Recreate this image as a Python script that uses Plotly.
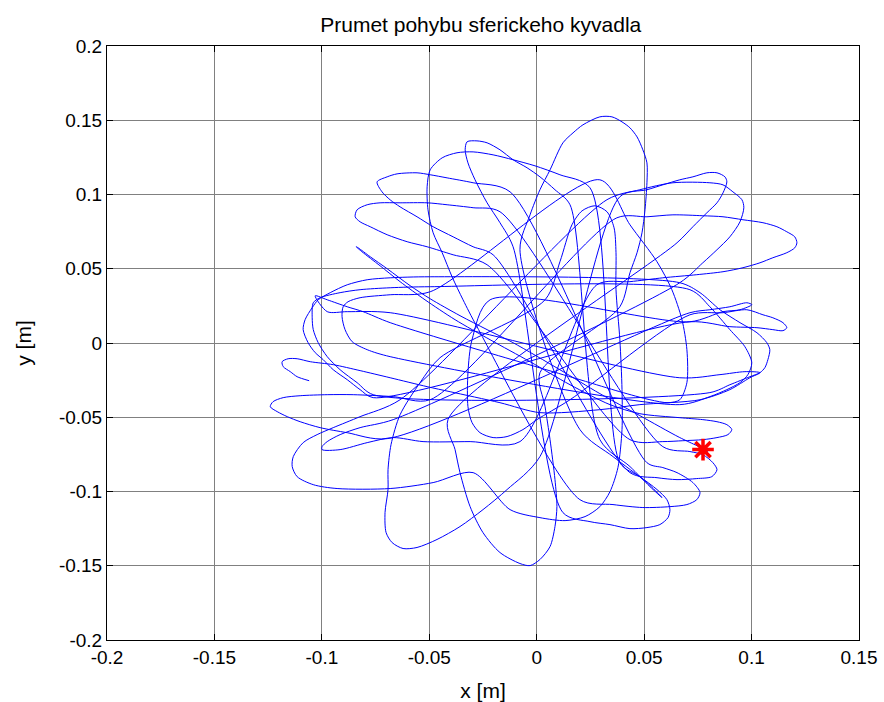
import plotly.graph_objects as go

# Trajectory of the pendulum bob projected onto the x-y plane [m].
# The path is stored swing by swing (one turning point per array pair)
# and joined in the order given by SWING_ORDER.

start_x = [0.0797, 0.0769, 0.0787]
start_y = [-0.0731, -0.0705, -0.0718]

C_x = [0.0666, 0.0480, 0.0294, 0.0108, -0.0110, -0.0231, -0.0357, -0.0496, -0.0589, -0.0696, -0.0775, -0.0831, -0.0840,
       -0.0813, -0.0729, -0.0636, -0.0520, -0.0380, -0.0217, -0.0031, 0.0155, 0.0341]
C_y = [-0.0637, -0.0489, -0.0341, -0.0180, 0.0002, 0.0090, 0.0184, 0.0298, 0.0386, 0.0500, 0.0581, 0.0641, 0.0648,
       0.0614, 0.0520, 0.0413, 0.0291, 0.0157, 0.0022, -0.0126, -0.0281, -0.0415]

S_x = [0.0480, 0.0666, 0.0773, 0.0839, 0.0885, 0.0908, 0.0890, 0.0839, 0.0773, 0.0680, 0.0587, 0.0434]
S_y = [-0.0476, -0.0503, -0.0516, -0.0530, -0.0550, -0.0583, -0.0617, -0.0637, -0.0651, -0.0658, -0.0664, -0.0651]

B_x = [-0.0231, -0.0389, -0.0510, -0.0603, -0.0696, -0.0775, -0.0822, -0.0845, -0.0836, -0.0789, -0.0729, -0.0636,
       -0.0510, -0.0417, -0.0296, -0.0171]
B_y = [0.0527, 0.0594, 0.0648, 0.0682, 0.0729, 0.0783, 0.0816, 0.0850, 0.0897, 0.0931, 0.0944, 0.0944,
       0.0944, 0.0931, 0.0911, 0.0884]

U_x = [0.0587, 0.0713, 0.0773, 0.0820, 0.0839, 0.0815, 0.0745, 0.0653, 0.0560, 0.0434]
U_y = [-0.0698, -0.0731, -0.0752, -0.0806, -0.0853, -0.0900, -0.0913, -0.0920, -0.0907, -0.0873]

A_x = [-0.0203, -0.0296, -0.0389, -0.0482, -0.0557, -0.0636, -0.0682, -0.0720, -0.0743, -0.0696, -0.0650, -0.0557,
       -0.0496, -0.0417, -0.0296, -0.0124]
A_y = [0.0594, 0.0648, 0.0715, 0.0783, 0.0850, 0.0917, 0.0964, 0.1018, 0.1085, 0.1119, 0.1139, 0.1146,
       0.1133, 0.1112, 0.1079, 0.1018]

V_x = [0.0513, 0.0587, 0.0653, 0.0727, 0.0760, 0.0745, 0.0699, 0.0620, 0.0494, 0.0355, 0.0201]
V_y = [-0.0806, -0.0839, -0.0873, -0.0940, -0.1007, -0.1055, -0.1088, -0.1102, -0.1108, -0.1088, -0.1055]

P113_x = [-0.0278, -0.0343, -0.0394, -0.0440, -0.0482, -0.0506, -0.0510, -0.0496, -0.0440, -0.0371, -0.0296, -0.0203,
          -0.0110, -0.0008, 0.0108, 0.0248]
P113_y = [0.0110, 0.0291, 0.0446, 0.0608, 0.0742, 0.0897, 0.1052, 0.1166, 0.1247, 0.1281, 0.1287, 0.1267,
          0.1234, 0.1193, 0.1133, 0.1045]

W_x = [0.0387, 0.0480, 0.0560, 0.0606, 0.0620, 0.0611, 0.0573, 0.0513, 0.0434, 0.0341, 0.0248, 0.0122]
W_y = [-0.0806, -0.0900, -0.0987, -0.1055, -0.1122, -0.1176, -0.1223, -0.1243, -0.1250, -0.1223, -0.1203, -0.1142]

P103_x = [-0.0110, -0.0171, -0.0231, -0.0287, -0.0320, -0.0333, -0.0324, -0.0278, -0.0231, -0.0171, -0.0110, -0.0045,
          0.0015, 0.0085, 0.0155]
P103_y = [0.0648, 0.0810, 0.0944, 0.1099, 0.1213, 0.1301, 0.1355, 0.1361, 0.1348, 0.1301, 0.1234, 0.1180,
          0.1119, 0.1032, 0.0931]

X_x = [0.0294, 0.0434, 0.0527, 0.0583, 0.0513, 0.0355, 0.0201]
X_y = [-0.0651, -0.0832, -0.0967, -0.1041, -0.0940, -0.0765, -0.0583]

K_x = [-0.0078, -0.0031, 0.0015, 0.0062, 0.0122, 0.0169, 0.0215, 0.0294, 0.0350, 0.0397, 0.0434, 0.0467, 0.0494,
       0.0513, 0.0513, 0.0504, 0.0490, 0.0467, 0.0434, 0.0387]
K_y = [0.0628, 0.0863, 0.1032, 0.1166, 0.1348, 0.1415, 0.1469, 0.1523, 0.1523, 0.1489, 0.1449, 0.1388, 0.1301,
       0.1213, 0.1079, 0.0897, 0.0742, 0.0608, 0.0473, 0.0244]

J_x = [0.0015, 0.0039, 0.0062, 0.0085, 0.0094, 0.0085, 0.0062, 0.0015, -0.0031, -0.0078, -0.0171, -0.0250, -0.0310,
       -0.0357, -0.0380, -0.0413]
J_y = [-0.0200, -0.0429, -0.0651, -0.0920, -0.1102, -0.1236, -0.1371, -0.1458, -0.1499, -0.1485, -0.1411, -0.1277,
       -0.1102, -0.0873, -0.0718, -0.0516]

L_x = [0.0653, 0.0727, 0.0792, 0.0839, 0.0867, 0.0885, 0.0876, 0.0839, 0.0792, 0.0727, 0.0666, 0.0587, 0.0513, 0.0387]
L_y = [0.0675, 0.0783, 0.0877, 0.0944, 0.1011, 0.1085, 0.1119, 0.1146, 0.1146, 0.1119, 0.1099, 0.1065, 0.1032, 0.0985]

I_x = [0.0015, -0.0138, -0.0250, -0.0357, -0.0464, -0.0557, -0.0622, -0.0673, -0.0701, -0.0706, -0.0692, -0.0692,
       -0.0678, -0.0636, -0.0543, -0.0450]
I_y = [-0.0765, -0.0987, -0.1122, -0.1236, -0.1323, -0.1377, -0.1384, -0.1344, -0.1277, -0.1142, -0.0987, -0.0853,
       -0.0684, -0.0483, -0.0267, -0.0099]

T_x = [0.0039, 0.0108, 0.0164, 0.0211, 0.0271, 0.0327, 0.0360, 0.0369, 0.0369, 0.0387, 0.0397, 0.0397, 0.0378,
       0.0341, 0.0294, 0.0225, 0.0132, 0.0015, -0.0124]
T_y = [0.0291, 0.0547, 0.0796, 0.0890, 0.0924, 0.0884, 0.0776, 0.0608, 0.0359, 0.0022, -0.0314, -0.0583, -0.0839,
       -0.1001, -0.1102, -0.1169, -0.1196, -0.1176, -0.1122]

H_x = [-0.0296, -0.0482, -0.0682, -0.0929, -0.1040, -0.1115, -0.1138, -0.1133, -0.1087, -0.1022, -0.0947, -0.0822,
       -0.0636]
H_y = [-0.0873, -0.0940, -0.0980, -0.0980, -0.0954, -0.0900, -0.0832, -0.0765, -0.0671, -0.0617, -0.0570, -0.0496,
       -0.0382]

M_x = [0.0327, 0.0480, 0.0634, 0.0806, 0.0867, 0.0913, 0.0955, 0.0964, 0.0946, 0.0899, 0.0839, 0.0773, 0.0666]
M_y = [0.0965, 0.1032, 0.1079, 0.1079, 0.1065, 0.1018, 0.0965, 0.0911, 0.0816, 0.0715, 0.0628, 0.0540, 0.0406]

G2_x = [-0.0668, -0.0822, -0.0915, -0.0975, -0.0999, -0.0999, -0.0915, -0.0789, -0.0668, -0.0529, -0.0310, -0.0078]
G2_y = [-0.0516, -0.0570, -0.0617, -0.0664, -0.0698, -0.0718, -0.0718, -0.0671, -0.0637, -0.0664, -0.0664, -0.0664]

N_x = [0.0280, 0.0434, 0.0587, 0.0745, 0.0867, 0.0960, 0.1039, 0.1099, 0.1164, 0.1201, 0.1211, 0.1201, 0.1164,
       0.1118, 0.1053, 0.0960, 0.0867, 0.0773, 0.0634, 0.0513, 0.0373]
N_y = [0.0392, 0.0413, 0.0439, 0.0460, 0.0480, 0.0507, 0.0540, 0.0574, 0.0608, 0.0641, 0.0675, 0.0715, 0.0749,
       0.0783, 0.0810, 0.0830, 0.0850, 0.0857, 0.0863, 0.0850, 0.0843]

G_x = [-0.0496, -0.0668, -0.0854, -0.0975, -0.1101, -0.1180, -0.1227, -0.1240, -0.1208, -0.1161, -0.1101, -0.1008,
       -0.0882, -0.0696]
G_y = [-0.0382, -0.0361, -0.0348, -0.0348, -0.0355, -0.0368, -0.0395, -0.0429, -0.0462, -0.0496, -0.0530, -0.0570,
       -0.0604, -0.0644]

O_x = [0.0713, 0.0806, 0.0899, 0.0978, 0.1001, 0.0946, 0.0867, 0.0713]
O_y = [0.0204, 0.0224, 0.0244, 0.0271, 0.0258, 0.0224, 0.0211, 0.0143]

Z_x = [-0.0217, -0.0301, -0.0320, -0.0320, -0.0301, -0.0264, -0.0203, -0.0138, -0.0064, 0.0001, 0.0155]
Z_y = [0.0291, 0.0022, -0.0200, -0.0429, -0.0536, -0.0604, -0.0637, -0.0630, -0.0583, -0.0516, -0.0382]

P_x = [0.0713, 0.0867, 0.0978, 0.1053, 0.1099, 0.1146, 0.1164, 0.1146, 0.1099, 0.1025, 0.0899, 0.0713]
P_y = [0.0190, 0.0204, 0.0224, 0.0190, 0.0170, 0.0137, 0.0103, 0.0083, 0.0090, 0.0103, 0.0110, 0.0143]

D1_x = [-0.0761, -0.0822, -0.0882, -0.0947, -0.0994, -0.1031, -0.1064, -0.1087, -0.1078, -0.1045, -0.1017, -0.0961,
        -0.0882, -0.0789, -0.0682, -0.0496]
D1_y = [-0.0368, -0.0314, -0.0247, -0.0180, -0.0112, -0.0065, 0.0002, 0.0090, 0.0157, 0.0238, 0.0291, 0.0339,
        0.0392, 0.0426, 0.0439, 0.0446]

Q_x = [0.0666, 0.0760, 0.0853, 0.0946, 0.1025, 0.1071, 0.1085, 0.1076, 0.1062, 0.1039, 0.0992, 0.0899, 0.0806]
Q_y = [0.0406, 0.0339, 0.0224, 0.0137, 0.0069, 0.0002, -0.0045, -0.0112, -0.0166, -0.0200, -0.0227, -0.0281, -0.0334]

D2_x = [-0.0761, -0.0836, -0.0915, -0.0975, -0.1017, -0.1040, -0.1045, -0.1040, -0.1008, -0.0915, -0.0822, -0.0682,
        -0.0496]
D2_y = [-0.0348, -0.0267, -0.0180, -0.0092, 0.0002, 0.0090, 0.0170, 0.0271, 0.0305, 0.0339, 0.0359, 0.0372, 0.0379]

Q2_x = [0.0713, 0.0806, 0.0899, 0.0969, 0.1001, 0.0983, 0.0946, 0.0885, 0.0806, 0.0666]
Q2_y = [0.0359, 0.0244, 0.0090, -0.0025, -0.0133, -0.0213, -0.0267, -0.0314, -0.0361, -0.0415]

D4_x = [-0.0682, -0.0789, -0.0859, -0.0892, -0.0906, -0.0901, -0.0878, -0.0822, -0.0682, -0.0496]
D4_y = [-0.0092, -0.0045, 0.0009, 0.0090, 0.0177, 0.0244, 0.0278, 0.0305, 0.0325, 0.0345]

Y_x = [0.0294, 0.0434, 0.0560, 0.0629, 0.0676, 0.0699, 0.0699, 0.0666, 0.0611, 0.0527, 0.0387, 0.0201]
Y_y = [0.1099, 0.0796, 0.0547, 0.0359, 0.0157, -0.0045, -0.0267, -0.0382, -0.0402, -0.0382, -0.0328, -0.0247]

D3_x = [-0.0682, -0.0808, -0.0882, -0.0975, -0.1031, -0.0975, -0.0882, -0.0682]
D3_y = [0.0137, 0.0211, 0.0244, 0.0291, 0.0318, 0.0211, 0.0211, 0.0204]

R_x = [0.0666, 0.0853, 0.0969, 0.1039, 0.0992, 0.0899, 0.0760]
R_y = [-0.0234, -0.0213, -0.0193, -0.0200, -0.0234, -0.0314, -0.0382]

F_x = [0.0480, 0.0294, 0.0015, -0.0171, -0.0403, -0.0510, -0.0682, -0.0822, -0.0947, -0.1054, -0.1115, -0.1157,
       -0.1185, -0.1180, -0.1147, -0.1115, -0.1059]
F_y = [-0.0415, -0.0449, -0.0469, -0.0402, -0.0328, -0.0294, -0.0234, -0.0186, -0.0146, -0.0126, -0.0106, -0.0106,
       -0.0126, -0.0159, -0.0193, -0.0227, -0.0254]

SWING_ORDER = [
    (start_x, start_y), (C_x, C_y), (S_x, S_y), (B_x, B_y), (U_x, U_y), (A_x, A_y), (V_x, V_y),
    (P113_x, P113_y), (W_x, W_y), (P103_x, P103_y), (X_x, X_y), (K_x, K_y), (J_x, J_y), (L_x, L_y),
    (I_x, I_y), (T_x, T_y), (H_x, H_y), (M_x, M_y), (G2_x, G2_y), (N_x, N_y), (G_x, G_y), (O_x, O_y),
    (Z_x, Z_y), (P_x, P_y), (D1_x, D1_y), (Q_x, Q_y), (D2_x, D2_y), (Q2_x, Q2_y), (D4_x, D4_y),
    (Y_x, Y_y), (D3_x, D3_y), (R_x, R_y), (F_x, F_y),
]

# Marked position of the bob
star_x = [0.0774]
star_y = [-0.0718]

x_ticks = [-0.2, -0.15, -0.1, -0.05, 0, 0.05, 0.1, 0.15]
x_labels = ["-0.2", "-0.15", "-0.1", "-0.05", "0", "0.05", "0.1", "0.15"]
y_ticks = [-0.2, -0.15, -0.1, -0.05, 0, 0.05, 0.1, 0.15, 0.2]
y_labels = ["-0.2", "-0.15", "-0.1", "-0.05", "0", "0.05", "0.1", "0.15", "0.2"]

path_x, path_y = [], []
for sx, sy in SWING_ORDER:
    path_x.extend(sx)
    path_y.extend(sy)

FONT = "Liberation Sans, Arial, Helvetica, sans-serif"

fig = go.Figure()
fig.add_trace(go.Scatter(
    x=path_x, y=path_y, mode="lines",
    line=dict(color="#0000ff", width=1, shape="spline", smoothing=0.8),
    hoverinfo="skip", showlegend=False,
))
fig.add_trace(go.Scatter(
    x=star_x, y=star_y, mode="markers",
    marker=dict(symbol="asterisk-open", size=18, color="#ff0000",
                line=dict(color="#ff0000", width=3.5)),
    showlegend=False,
))

axis_common = dict(
    showgrid=True, gridcolor="#808080", gridwidth=1, zeroline=False,
    showline=True, linecolor="black", linewidth=1, mirror="ticks",
    ticks="inside", ticklen=6, tickcolor="black", automargin=False,
    tickfont=dict(family=FONT, size=19, color="black"),
)

fig.update_xaxes(range=[-0.2, 0.15], tickvals=x_ticks, ticktext=x_labels,
                 title=dict(text="x [m]", font=dict(family=FONT, size=21, color="black"), standoff=17),
                 **axis_common)
fig.update_yaxes(range=[-0.2, 0.2], tickvals=y_ticks, ticktext=y_labels,
                 title=dict(text="y [m]", font=dict(family=FONT, size=21, color="black"), standoff=21),
                 **axis_common)

fig.update_layout(
    width=884, height=702,
    margin=dict(l=107, r=25, t=46, b=62),
    paper_bgcolor="white", plot_bgcolor="white",
    title=dict(text="Prumet pohybu sferickeho kyvadla", x=0.497, xref="paper", xanchor="center",
               y=1 - 25 / 702, yanchor="middle", yref="container",
               font=dict(family=FONT, size=21, color="black")),
)

fig.write_html("out.html")
